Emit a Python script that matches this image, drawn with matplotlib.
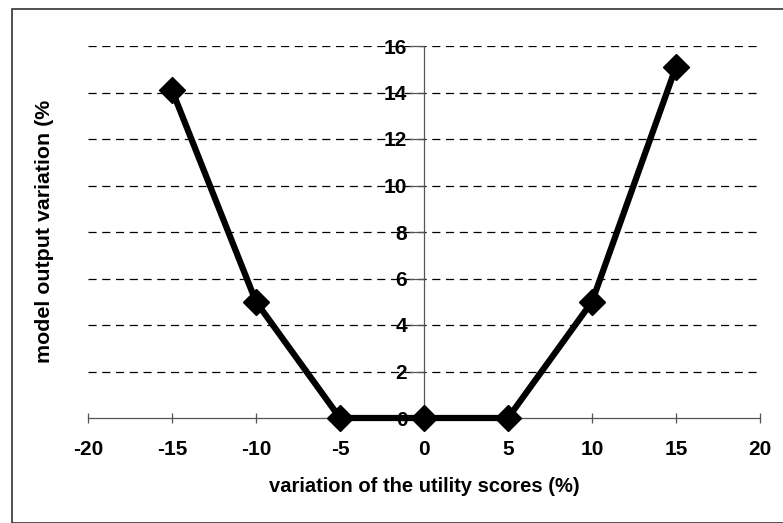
import numpy as np
import matplotlib
matplotlib.use("Agg")
from matplotlib import pyplot as plt
from matplotlib.patches import Rectangle

# data
score_var = [-15, -10, -5, 0, 5, 10, 15]
output_var = [14.1, 5.0, 0.0, 0.0, 0.0, 5.0, 15.1]
xticks = [-20, -15, -10, -5, 0, 5, 10, 15, 20]
yticks = [0, 2, 4, 6, 8, 10, 12, 14, 16]

plt.rcParams['font.family'] = ['Liberation Sans', 'DejaVu Sans']
plt.rcParams['font.weight'] = 'bold'
plt.rcParams['axes.unicode_minus'] = False

fig = plt.figure(figsize=(7.83, 5.23), dpi=100)
ax = fig.add_axes([88/783, 1-418/523, (760-88)/783, (418-46)/523])

ax.set_xlim(-20, 20)
ax.set_ylim(0, 16)

# dashed grid lines
for y in yticks[1:]:
    ax.axhline(y, color='black', lw=0.9, ls=(0, (6.5, 4.5)), zorder=1)

ax.plot(score_var, output_var, color='black', lw=4.5, marker='D', ms=13.5,
        mfc='black', mec='black', zorder=3, clip_on=False)

# axes crossing at zero, like the spreadsheet chart
for s in ['top', 'right']:
    ax.spines[s].set_visible(False)
ax.spines['left'].set_position(('data', 0))
ax.spines['bottom'].set_position(('data', 0))
ax.spines['left'].set_color('#555555')
ax.spines['bottom'].set_color('#555555')
ax.spines['left'].set_linewidth(0.9)
ax.spines['bottom'].set_linewidth(0.9)
ax.spines['left'].set_zorder(2)

ax.set_xticks(xticks)
ax.set_yticks(yticks)
ax.tick_params(axis='x', direction='inout', length=7, width=0.9,
               color='#555555', labelsize=15, pad=12)
ax.tick_params(axis='y', direction='out', length=11, width=0.9,
               color='#555555', labelsize=15, pad=1)

ax.set_xlabel('variation of the utility scores (%)', fontsize=14.5,
              fontweight='bold', labelpad=13)
fig.text(45/783, 1-231/523, 'model output variation (%', rotation=90,
         fontsize=15.4, fontweight='bold', ha='center', va='center')

# outer frame of the chart area
fig.patches.append(Rectangle((12/783, 0.0), 780/783, 1-9/523,
                             transform=fig.transFigure, fill=False,
                             ec='#333333', lw=1.2))

fig.savefig('out.png', dpi=100)
